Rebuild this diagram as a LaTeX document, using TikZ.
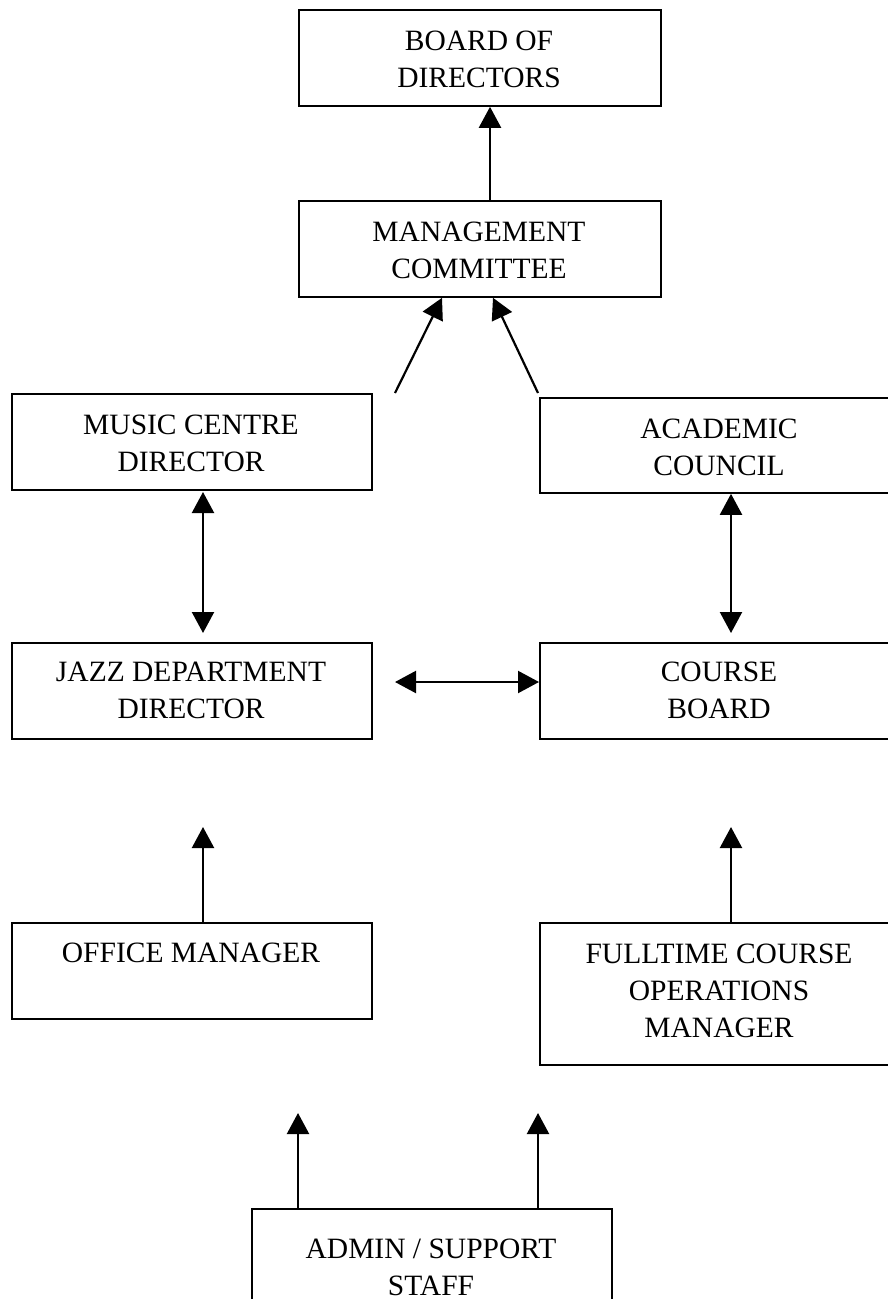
\documentclass[tikz,border=0pt]{standalone}
\usepackage{fontspec}
\setmainfont{Liberation Serif}
\usetikzlibrary{arrows.meta,positioning}
\begin{document}
\begin{tikzpicture}[x=1pt,y=-1pt,
  box/.style={draw=black,line width=1.8pt,anchor=north west,inner sep=0pt,minimum width=362pt,minimum height=96pt},
  lbl/.style={font=\fontsize{29.5}{37}\selectfont,align=center,inner sep=0pt,anchor=base},
  arr/.style={line width=2.2pt,-{Triangle[width=22pt,length=21pt]}},
  darr/.style={line width=2.2pt,{Triangle[width=22pt,length=21pt]}-{Triangle[width=22pt,length=21pt]}}]
\useasboundingbox (0,0) rectangle (888,1299);
\clip (0,0) rectangle (888,1299);
% boxes
\node[box] (bod) at (298,9) {};
\node[box] (mc) at (298,200) {};
\node[box,minimum width=360pt] (mcd) at (11,393) {};
\node[box,minimum width=360pt,minimum height=95pt] (ac) at (539,397) {};
\node[box,minimum width=360pt] (jdd) at (11,642) {};
\node[box,minimum width=360pt] (cb) at (539,642) {};
\node[box,minimum width=360pt] (om) at (11,922) {};
\node[box,minimum width=360pt,minimum height=142pt] (fcom) at (539,922) {};
\node[box,minimum width=360pt,minimum height=130pt] (ass) at (251,1208) {};
% labels (base = baseline of last line)
\node[lbl] (tbod) at (479,87) {BOARD OF\\DIRECTORS};
\node[lbl] (tmc) at (479,278) {MANAGEMENT\\COMMITTEE};
\node[lbl] (tmcd) at (191,471) {MUSIC CENTRE\\DIRECTOR};
\node[lbl] (tac) at (719,475) {ACADEMIC\\COUNCIL};
\node[lbl] (tjdd) at (191,718) {JAZZ DEPARTMENT\\DIRECTOR};
\node[lbl] (tcb) at (719,718) {COURSE\\BOARD};
\node[lbl] (tom) at (191,962) {OFFICE MANAGER};
\node[lbl] (tfcom) at (719,1037) {FULLTIME COURSE\\OPERATIONS\\MANAGER};
\node[lbl] (tass) at (431,1295) {ADMIN / SUPPORT\\STAFF};
% helper coordinates
\coordinate (x490) at (490,0);
\coordinate (x442) at (442,0);
\coordinate (x493) at (493,0);
\coordinate (x203) at (203,0);
\coordinate (x731) at (731,0);
\coordinate (x298) at (298,0);
\coordinate (x538) at (538,0);
\coordinate (dl) at (395,393);
\coordinate (dr) at (538,393);
\coordinate (hl) at (395,682);
\coordinate (y633) at (0,633);
\coordinate (y827) at (0,827);
\coordinate (y1113) at (0,1113);
\coordinate (y492) at (0,492);
% connectors
\draw[arr] (x490 |- mc.north) -- (x490 |- bod.south);
\draw[arr] (dl) -- (x442 |- mc.south);
\draw[arr] (dr) -- (x493 |- mc.south);
\draw[darr] (x203 |- y492) -- (x203 |- y633);
\draw[darr] (x731 |- ac.south) -- (x731 |- y633);
\draw[darr] (hl) -- (hl -| cb.west);
\draw[arr] (x203 |- om.north) -- (x203 |- y827);
\draw[arr] (x731 |- fcom.north) -- (x731 |- y827);
\draw[arr] (x298 |- ass.north) -- (x298 |- y1113);
\draw[arr] (x538 |- ass.north) -- (x538 |- y1113);
\end{tikzpicture}
\end{document}
